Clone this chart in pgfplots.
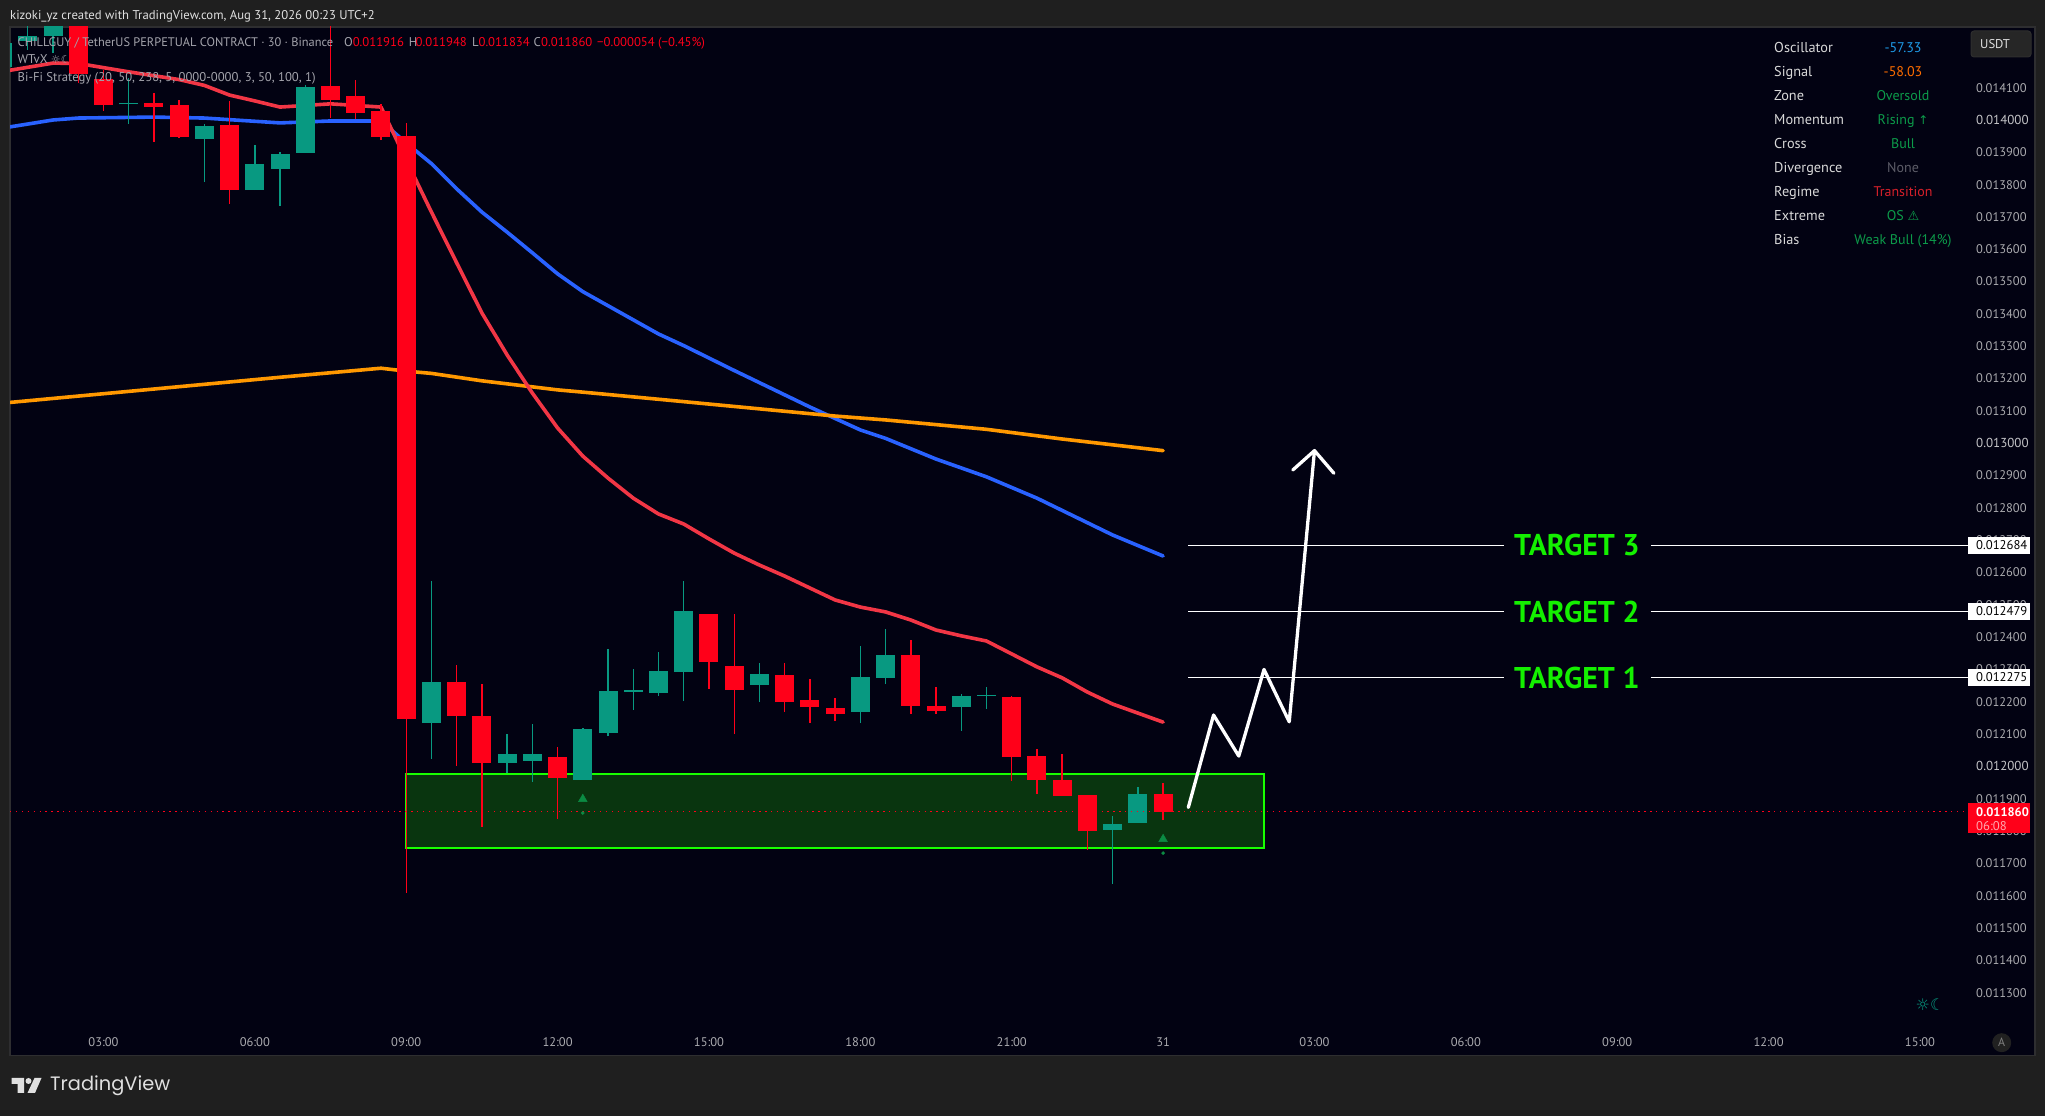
\documentclass[border=0pt]{standalone}
\usepackage{pgfplots}
\pgfplotsset{compat=1.18}
\usepackage{pgfplotstable}
\usepackage{fontspec}
\setmainfont{PT Sans}
\newfontfamily\symf{DejaVu Sans}
\newfontfamily\logof{Poppins}
\definecolor{outer}{HTML}{1F1F1F}
\definecolor{panel}{HTML}{020212}
\definecolor{rim}{HTML}{2E2E30}
\definecolor{cred}{HTML}{FF0019}
\definecolor{cteal}{HTML}{089981}
\definecolor{lred}{HTML}{F23645}
\definecolor{lblue}{HTML}{2962FF}
\definecolor{lorange}{HTML}{FF9800}
\definecolor{zonefill}{HTML}{09350F}
\definecolor{zoneline}{HTML}{18FF00}
\definecolor{tgt}{HTML}{14F000}
\definecolor{tick}{HTML}{ABABAF}
\definecolor{leg}{HTML}{A4A4AC}
\definecolor{sigg}{HTML}{0C9B4A}
\definecolor{osc}{HTML}{1E9BE8}
\definecolor{sgn}{HTML}{FF6D00}
\definecolor{none}{HTML}{5D5D68}
\definecolor{regm}{HTML}{D6202A}
\newcommand\fs[1]{\fontsize{#1}{#1}\selectfont}

% index = half hours since 00:00; o h l c are prices
\pgfplotstableread{
i o h l c
5 0.014325 0.014340 0.014114 0.014142
6 0.014128 0.014155 0.014028 0.014046
8 0.014053 0.014084 0.013932 0.014040
9 0.014046 0.014062 0.013944 0.013947
11 0.013985 0.014059 0.013740 0.013783
15 0.014105 0.014309 0.014006 0.014062
16 0.014074 0.014124 0.014003 0.014022
17 0.014028 0.014050 0.013938 0.013947
18 0.013950 0.013991 0.011608 0.012147
20 0.012261 0.012314 0.012001 0.012156
21 0.012156 0.012255 0.011813 0.012011
24 0.012029 0.012060 0.011837 0.011964
30 0.012472 0.012472 0.012240 0.012323
31 0.012311 0.012472 0.012100 0.012236
33 0.012283 0.012320 0.012168 0.012199
34 0.012206 0.012270 0.012134 0.012184
35 0.012181 0.012212 0.012141 0.012162
38 0.012345 0.012391 0.012162 0.012187
39 0.012187 0.012246 0.012162 0.012171
42 0.012215 0.012218 0.011955 0.012029
43 0.012032 0.012054 0.011915 0.011958
44 0.011958 0.012038 0.011908 0.011908
45 0.011912 0.011912 0.011741 0.011800
48 0.011916 0.011948 0.011834 0.011860
}\downbars
\pgfplotstableread{
i o h l c
2 0.014164 0.014240 0.014160 0.014238
3 0.014244 0.014309 0.014217 0.014260
4 0.014260 0.014330 0.014207 0.014320
7 0.014048 0.014130 0.013988 0.014053
10 0.013941 0.013988 0.013808 0.013981
12 0.013783 0.013923 0.013783 0.013864
13 0.013848 0.013901 0.013734 0.013895
14 0.013898 0.014108 0.013898 0.014102
19 0.012134 0.012574 0.012023 0.012261
22 0.012011 0.012100 0.011980 0.012038
23 0.012017 0.012131 0.011952 0.012038
25 0.011958 0.012119 0.011958 0.012116
26 0.012103 0.012363 0.012094 0.012233
27 0.012230 0.012301 0.012175 0.012236
28 0.012227 0.012354 0.012218 0.012295
29 0.012292 0.012574 0.012202 0.012481
32 0.012252 0.012320 0.012199 0.012286
36 0.012168 0.012373 0.012134 0.012277
37 0.012274 0.012425 0.012255 0.012345
40 0.012184 0.012224 0.012110 0.012218
41 0.012218 0.012246 0.012178 0.012221
46 0.011803 0.011847 0.011636 0.011822
47 0.011825 0.011936 0.011825 0.011915
}\upbars

\pgfplotsset{
  wick/.style={no marks,draw=none,forget plot,error bars/.cd,y dir=both,y explicit,error mark=none,
    error bar style={#1,line width=1.4pt}},
  body/.style={no marks,draw=none,forget plot,error bars/.cd,y dir=both,y explicit,error mark=none,
    error bar style={#1,line width=19pt,line cap=butt}},
}

\begin{document}
\begin{tikzpicture}
\fill[outer] (0pt,0pt) rectangle (2045pt,1116pt);
\begin{axis}[
  at={(10pt,60.3pt)},anchor=south west,
  scale only axis,width=2025pt,height=1028.7pt,
  xmin=2.295,xmax=82.56,ymin=0.011105,ymax=0.0142878,
  axis background/.style={fill=panel},
  axis line style={rim,line width=1.5pt},
  major tick length=0pt,
  xtick={6,12,18,24,30,36,42,48,54,60,66,72,78},
  xticklabels={03:00,06:00,09:00,12:00,15:00,18:00,21:00,31,03:00,06:00,09:00,12:00,15:00},
  xticklabel style={anchor=center,yshift=14pt,text=tick,font=\fs{12.5}},
  ytick={0.0113,0.0114,0.0115,0.0116,0.0117,0.0118,0.0119,0.0120,0.0121,0.0122,0.0123,0.0124,0.0125,0.0126,0.0127,0.0128,0.0129,0.0130,0.0131,0.0132,0.0133,0.0134,0.0135,0.0136,0.0137,0.0138,0.0139,0.0140,0.0141},
  yticklabels={0.011300,0.011400,0.011500,0.011600,0.011700,0.011800,0.011900,{\fs{13}\color{tick!70!white}0.012000},0.012100,0.012200,0.012300,0.012400,0.012500,0.012600,0.012700,0.012800,0.012900,{\fs{13}\color{tick!70!white}0.013000},0.013100,0.013200,0.013300,0.013400,0.013500,0.013600,0.013700,0.013800,0.013900,{\fs{13}\color{tick!70!white}0.014000},0.014100},
  yticklabel pos=right,
  yticklabel style={anchor=west,inner sep=0pt,xshift=-59pt,text=tick,font=\fs{12.5}},
  scaled y ticks=false,
]
% zone
\addplot[draw=zoneline,fill=zonefill,line width=2pt,forget plot] coordinates
 {(17.98,0.011977)(52,0.011977)(52,0.011748)(17.98,0.011748)} -- cycle;
% moving averages
\addplot[lblue,line width=3.6pt,line join=round,line cap=round,no marks] coordinates {
 (2,0.013975)(4,0.014000)(5,0.014006)(8,0.014009)(10,0.014006)(13,0.013991)(15,0.013997)(17,0.013997)
 (18,0.013929)(19,0.013865)(20,0.013787)(21,0.013715)(22,0.013653)(23,0.013589)(24,0.013524)(25,0.013469)
 (28,0.013338)(29,0.013302)(31,0.013225)(34,0.013112)(36,0.013041)(37,0.013015)(39,0.012951)(41,0.012896)
 (43,0.012830)(46,0.012716)(48,0.012651)};
\addplot[lorange,line width=3.6pt,line join=round,line cap=round,no marks] coordinates {
 (2,0.013124)(13,0.013204)(17,0.013232)(18,0.013223)(19,0.013216)(21,0.013193)(24,0.013165)(25,0.013158)
 (28,0.013136)(35,0.013084)(37,0.013072)(41,0.013043)(44,0.013013)(48,0.012977)};
\addplot[lred,line width=3.6pt,line join=round,line cap=round,no marks] coordinates {
 (2,0.014150)(4,0.014176)(5,0.014175)(7,0.014149)(9,0.014125)(10,0.014107)(11,0.014077)(12,0.014059)(13,0.014040)
 (15,0.014050)(17,0.014040)(18,0.013876)(19,0.013715)(20,0.013558)(21,0.013403)(22,0.013273)(23,0.013155)(24,0.013047)
 (25,0.012960)(26,0.012892)(27,0.012830)(28,0.012781)(29,0.012750)(30,0.012704)(31,0.012660)(32,0.012623)(33,0.012589)
 (34,0.012552)(35,0.012515)(36,0.012493)(37,0.012478)(38,0.012453)(39,0.012422)(40,0.012404)(41,0.012388)(42,0.012348)
 (43,0.012308)(44,0.012274)(45,0.012230)(46,0.012193)(47,0.012165)(48,0.012137)};
% candles
\addplot[wick=cred] table[x=i,y=l,y error plus expr=\thisrow{h}-\thisrow{l},y error minus expr=0] {\downbars};
\addplot[body=cred] table[x=i,y=c,y error plus expr=\thisrow{o}-\thisrow{c},y error minus expr=0] {\downbars};
\addplot[wick=cteal] table[x=i,y=l,y error plus expr=\thisrow{h}-\thisrow{l},y error minus expr=0] {\upbars};
\addplot[body=cteal] table[x=i,y=o,y error plus expr=\thisrow{c}-\thisrow{o},y error minus expr=0] {\upbars};
% signal marks
\addplot[only marks,mark=triangle*,mark size=5pt,color=sigg!90!black,forget plot] coordinates {(25,0.011899)(48,0.011775)};
\addplot[only marks,mark=*,mark size=1.6pt,color=sigg!90!black,forget plot] coordinates {(25,0.011856)(48,0.011732)};
% last price
\addplot[cred,line width=1pt,dash pattern=on 1.3pt off 4.6pt,forget plot] coordinates {(2.295,0.011860)(79.9,0.011860)};
% targets
\addplot[white,line width=1.5pt,forget plot] coordinates {(49,0.012684)(61.52,0.012684)};
\addplot[white,line width=1.5pt,forget plot] coordinates {(67.33,0.012684)(79.9,0.012684)};
\addplot[white,line width=1.5pt,forget plot] coordinates {(49,0.012479)(61.52,0.012479)};
\addplot[white,line width=1.5pt,forget plot] coordinates {(67.33,0.012479)(79.9,0.012479)};
\addplot[white,line width=1.5pt,forget plot] coordinates {(49,0.012275)(61.52,0.012275)};
\addplot[white,line width=1.5pt,forget plot] coordinates {(67.33,0.012275)(79.9,0.012275)};
% forecast path
\addplot[white,line width=3.3pt,line join=round,line cap=round,forget plot] coordinates
 {(49,0.011873)(50,0.012159)(51,0.012032)(52,0.012300)(53,0.012138)(54,0.012977)};
\addplot[white,line width=3.3pt,line join=round,line cap=round,forget plot] coordinates
 {(53.14,0.012917)(54,0.012977)(54.77,0.012907)};
\node[text=tgt,font=\fs{30}\bfseries,inner sep=0pt] at (axis cs:64.4,0.012684) {TARGET 3};
\node[text=tgt,font=\fs{30}\bfseries,inner sep=0pt] at (axis cs:64.4,0.012479) {TARGET 2};
\node[text=tgt,font=\fs{30}\bfseries,inner sep=0pt] at (axis cs:64.4,0.012275) {TARGET 1};
\end{axis}

\begin{scope}[x=1pt,y=-1pt,shift={(0pt,1116pt)}]
\tikzset{lab/.style={anchor=west,inner sep=0pt,text height=10pt,text depth=1pt,font=\fs{12.7}},
         val/.style={anchor=center,inner sep=0pt,text height=10pt,text depth=1pt,font=\fs{14}}}
% top text
\node[lab,text=white!88!black] at (10,15) {kizoki\_yz created with TradingView.com, Aug 31, 2026 00:23 UTC+2};
\node[lab,font=\fs{12.4},text=leg] at (17.5,42) {CHILLGUY / TetherUS PERPETUAL CONTRACT · 30 · Binance};
\node[lab,text=leg] at (344,42) {O};
\node[lab,text=cred] at (352.6,42) {0.011916};
\node[lab,text=leg] at (408.6,42) {H};
\node[lab,text=cred] at (415.5,42) {0.011948};
\node[lab,text=leg] at (472,42) {L};
\node[lab,text=cred] at (478.4,42) {0.011834};
\node[lab,text=leg] at (533.5,42) {C};
\node[lab,text=cred] at (541,42) {0.011860};
\node[lab,text=cred] at (597,42) {−0.000054 (−0.45\%)};
\node[lab,text=leg] at (17.5,58.7) {WTvX {\symf\fs{11}☼☾}};
\node[lab,text=leg] at (17.5,76.7) {Bi-Fi Strategy (20, 50, 238, 5, 0000-0000, 3, 50, 100, 1)};
% table
\foreach \n/\y in {Oscillator/48.3,Signal/72.3,Zone/96.3,Momentum/120.3,Cross/144.3,Divergence/168.3,Regime/192.3,Extreme/216.3,Bias/240.3}
  \node[lab,font=\fs{14.3},text=white!85!black] at (1774,\y) {\n};
\node[val,text=osc] at (1903,48.3) {-57.33};
\node[val,text=sgn] at (1903,72.3) {-58.03};
\node[val,text=sigg] at (1903,96.3) {Oversold};
\node[val,text=sigg] at (1903,120.3) {Rising {\symf\fs{12}↑}};
\node[val,text=sigg] at (1903,144.3) {Bull};
\node[val,text=none] at (1903,168.3) {None};
\node[val,text=regm] at (1903,192.3) {Transition};
\node[val,text=sigg] at (1903,216.3) {OS {\symf\fs{13}⚠}};
\node[val,text=sigg] at (1903,240.3) {Weak Bull (14\%)};
% USDT
\draw[fill=black!85!white,draw=white!18!black,line width=1pt,rounded corners=3pt] (1971,31) rectangle (2031,57);
\node[lab,text=white!88!black] at (1980,44.5) {USDT};
% price tags
\foreach \y/\t in {545.3/0.012684,611.3/0.012479,677.3/0.012275}{
  \fill[white] (1968,\y-8.5) rectangle (2030,\y+8.5);
  \node[lab,text=black] at (1976,\y) {\t};
}
\fill[cred] (1968,803) rectangle (2030,833);
\node[lab,text=white,font=\fs{12.5}\bfseries] at (1976,811.7) {0.011860};
\node[lab,text=white!65!cred] at (1976,825.7) {06:08};
% corner items
\node[inner sep=0pt,text=cteal,font=\symf\fs{16}] at (1930,1005) {☼☾};
\fill[white!13!black] (2001.7,1042.7) circle (9.5);
\node[inner sep=0pt,text=gray,font=\fs{12}] at (2001.7,1042.7) {A};
% logo
\fill[white!88!black] (11.5,1078)--(24,1078)--(24,1093)--(17.5,1093)--(17.5,1084)--(11.5,1084)--cycle;
\fill[white!88!black] (28.5,1081) circle (3);
\fill[white!88!black] (34.5,1078)--(41.5,1078)--(35,1093)--(27.5,1093)--cycle;
\node[anchor=west,inner sep=0pt,text=white!88!black,font=\logof\fs{19.4}] at (50,1086) {TradingView};
\end{scope}
\end{tikzpicture}
\end{document}
